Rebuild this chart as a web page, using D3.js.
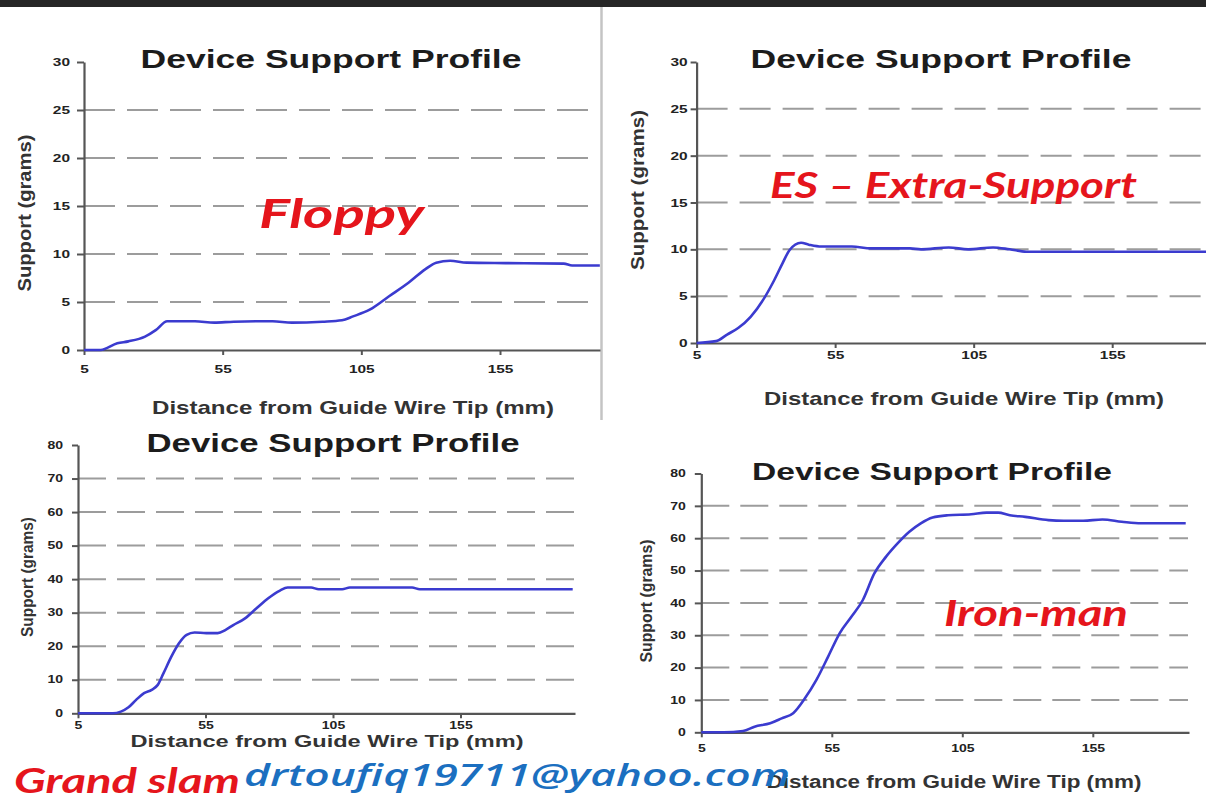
<!DOCTYPE html>
<html><head><meta charset="utf-8">
<script src="https://cdn.jsdelivr.net/npm/d3@7"></script>
<style>
body{margin:0;background:#fff;}
svg{display:block;}
</style></head><body>
<svg id="c" width="1206" height="801"></svg>
<script>
// ---------- data ----------
const xTickValues = [5, 55, 105, 155];
const yTicksSmall = [0, 5, 10, 15, 20, 25, 30];
const yTicksLarge = [0, 10, 20, 30, 40, 50, 60, 70, 80];

const floppyMM = [5, 11, 17, 21, 27, 31, 35, 38, 45, 52, 59, 73, 80, 91, 98, 102, 108, 115, 122, 128, 132, 137, 143, 157, 178, 181, 191];
const floppyG  = [0, 0, 0.7, 0.9, 1.4, 2.1, 3.0, 3.0, 3.0, 2.85, 2.95, 3.0, 2.85, 2.95, 3.1, 3.5, 4.2, 5.6, 7.0, 8.4, 9.1, 9.3, 9.1, 9.05, 9.0, 8.8, 8.8];

const esMM = [5, 12, 16, 20, 24.5, 29, 33, 36, 38.5, 42.7, 45.5, 50, 61, 68, 82, 86, 96, 103, 112, 118, 124, 190];
const esG  = [0, 0.2, 0.9, 1.6, 2.8, 4.6, 6.7, 8.5, 9.9, 10.7, 10.5, 10.3, 10.3, 10.1, 10.1, 10.0, 10.2, 10.0, 10.2, 10.0, 9.75, 9.75];

const grandMM = [5, 18.7, 21.8, 24.8, 27.8, 30.9, 33.9, 36.2, 38.5, 41.6, 44.6, 47.6, 50.7, 55.3, 59.8, 62.9, 65.9, 70.5, 75, 79.6, 84.2, 87.2, 96.4, 99.4, 108.6, 111.6, 136, 139, 199];
const grandG  = [0, 0, 0.5, 1.8, 4.0, 6.0, 7.0, 8.4, 11.9, 16.9, 20.9, 23.4, 24.1, 23.9, 23.9, 24.9, 26.3, 28.3, 31.3, 34.3, 36.6, 37.5, 37.5, 37.0, 37.0, 37.5, 37.5, 37.0, 37.0];

const ironMM = [5, 13.6, 21, 25.4, 31.4, 35.8, 40.2, 44.7, 49.1, 53.6, 58, 62.5, 66.9, 71.3, 75.8, 80.2, 84.7, 89.1, 93.6, 99.5, 108.4, 114.3, 118.7, 123.2, 129.1, 138, 143.9, 151.3, 158.7, 166.1, 173.5, 190.6];
const ironG  = [0, 0, 0.4, 1.75, 2.8, 4.3, 5.9, 10.5, 16.2, 23.4, 30.6, 35.7, 40.9, 49.1, 54.3, 58.4, 62, 64.6, 66.4, 67.1, 67.4, 67.9, 67.9, 67.1, 66.6, 65.6, 65.4, 65.4, 65.8, 65.1, 64.6, 64.6];

const chartTitle = "Device Support Profile";
const xAxisTitle = "Distance from Guide Wire Tip (mm)";
const yAxisTitle = "Support (grams)";
const wireNames = ["Floppy", "ES \u2013 Extra-Support", "Grand slam", "Iron-man"];
const emailText = "drtoufiq19711@yahoo.com";

// ---------- drawing ----------
const svg = d3.select("#c");
svg.append("rect").attr("width", 1206).attr("height", 801).attr("fill", "#fff");
svg.append("rect").attr("x", 0).attr("y", 0).attr("width", 1206).attr("height", 7).attr("fill", "#262626");
svg.append("line").attr("x1", 601.5).attr("x2", 601.5).attr("y1", 7).attr("y2", 420)
  .attr("stroke", "#c4c4c4").attr("stroke-width", 2.5);

const AX = "'Liberation Sans', Arial, sans-serif";
const CAL = "Lato, 'Open Sans', sans-serif";

function fitW(sel, w) { sel.attr("textLength", w).attr("lengthAdjust", "spacingAndGlyphs"); }
function stretch(sel, f) {
  sel.each(function () {
    const l = this.getComputedTextLength();
    d3.select(this).attr("textLength", l * f).attr("lengthAdjust", "spacingAndGlyphs");
  });
}

function panel(p, mm, g, yTicks) {
  const G = svg.append("g");
  const x0 = d3.scaleLinear().domain([5, 155]).range([p.x5, p.x155]);
  const x = d3.scaleLinear().domain([5, x0.invert(p.xEndPx)]).range([p.x5, p.xEndPx]);
  const yMax = yTicks[yTicks.length - 1];
  const y = d3.scaleLinear().domain([0, yMax]).range([p.y0, p.yTop]);

  G.selectAll("line.grid").data(yTicks.filter(v => v > 0 && v < yMax)).join("line")
    .attr("class", "grid")
    .attr("x1", p.x5).attr("x2", p.gridEnd)
    .attr("y1", d => y(d)).attr("y2", d => y(d))
    .attr("stroke", "#9c9c9c").attr("stroke-width", 2).attr("stroke-dasharray", p.dash);

  const ya = G.append("g").attr("transform", `translate(${p.x5},0)`)
    .call(d3.axisLeft(y).tickValues(yTicks).tickSize(p.ytick).tickPadding(p.ypad).tickSizeOuter(0));
  const xa = G.append("g").attr("transform", `translate(0,${p.y0})`)
    .call(d3.axisBottom(x).tickValues(xTickValues).tickSize(5).tickPadding(p.xpad).tickSizeOuter(0));
  [ya, xa].forEach(a => {
    a.select(".domain").attr("stroke", "#555").attr("stroke-width", 2.2);
    a.selectAll(".tick line").attr("stroke", "#555").attr("stroke-width", 2);
    a.selectAll("text").attr("font-family", AX).attr("font-weight", "bold")
      .attr("font-size", p.tickFs).attr("fill", "#222");
    stretch(a.selectAll("text"), 1.4);
  });

  const data = mm.map((d, i) => [d, g[i]]);
  G.append("path").datum(data)
    .attr("fill", "none").attr("stroke", "#3b3bcf").attr("stroke-width", 2.6)
    .attr("stroke-linejoin", "round")
    .attr("d", d3.line().x(d => x(d[0])).y(d => y(d[1])).curve(d3.curveMonotoneX));

  fitW(G.append("text").attr("x", p.t[0]).attr("y", p.t[1]).attr("text-anchor", "middle")
    .attr("font-family", AX).attr("font-weight", "bold").attr("font-size", p.t[3]).attr("fill", "#1c1c1c")
    .text(chartTitle), p.t[2]);
  fitW(G.append("text").attr("x", p.xt[0]).attr("y", p.xt[1]).attr("text-anchor", "middle")
    .attr("font-family", AX).attr("font-weight", "bold").attr("font-size", p.xt[3]).attr("fill", "#333")
    .text(xAxisTitle), p.xt[2]);
  fitW(G.append("text").attr("transform", `translate(${p.yt[0]},${p.yt[1]}) rotate(-90)`)
    .attr("text-anchor", "middle")
    .attr("font-family", AX).attr("font-weight", "bold").attr("font-size", p.yt[3]).attr("fill", "#333")
    .text(yAxisTitle), p.yt[2]);
}

panel({x5: 84, x155: 500, xEndPx: 600, y0: 350, yTop: 62, gridEnd: 600, dash: "31,12",
  ytick: 7, ypad: 7, xpad: 10, tickFs: 11,
  t: [331, 68, 381, 25], xt: [353, 414, 402, 19], yt: [31, 213, 157, 18]}, floppyMM, floppyG, yTicksSmall);

panel({x5: 696.6, x155: 1112.2, xEndPx: 1215, y0: 343, yTop: 62, gridEnd: 1215, dash: "31,12",
  ytick: 6, ypad: 3, xpad: 3, tickFs: 11,
  t: [941, 68, 381, 25], xt: [964, 405, 400, 19], yt: [644, 190, 160, 18]}, esMM, esG, yTicksSmall);

panel({x5: 78, x155: 460.5, xEndPx: 575, y0: 713.3, yTop: 445, gridEnd: 575, dash: "28,11",
  ytick: 6, ypad: 9, xpad: 4, tickFs: 10,
  t: [333, 452, 373, 25], xt: [327, 747, 393, 16], yt: [33, 577, 120, 16]}, grandMM, grandG, yTicksLarge);

panel({x5: 701.3, x155: 1092.8, xEndPx: 1189, y0: 732.3, yTop: 473.5, gridEnd: 1188, dash: "28,11",
  ytick: 6.5, ypad: 9, xpad: 8, tickFs: 10,
  t: [932, 480, 360, 24], xt: [954, 788, 375, 18], yt: [652, 601, 123, 16]}, ironMM, ironG, yTicksLarge);

// wire names (red) and email (blue)
const red = "#e5151c";
function label(txt, x, y, w, fs, color, weight, fam) {
  fitW(svg.append("text").attr("x", x).attr("y", y)
    .attr("font-family", fam || CAL).attr("font-weight", weight).attr("font-style", "italic")
    .attr("font-size", fs).attr("fill", color).text(txt), w);
}
label(wireNames[0], 259, 228, 165, 40, red, "bold");
label(wireNames[1], 770, 198, 367, 36, red, "bold");
label(wireNames[3], 944, 626, 184, 36, red, "bold");
label(wireNames[2], 14, 793, 226, 34, red, "bold");
label(emailText, 244, 786, 546, 31, "#1b6fc0", "600", "'Open Sans', Lato, sans-serif");
</script>
</body></html>
